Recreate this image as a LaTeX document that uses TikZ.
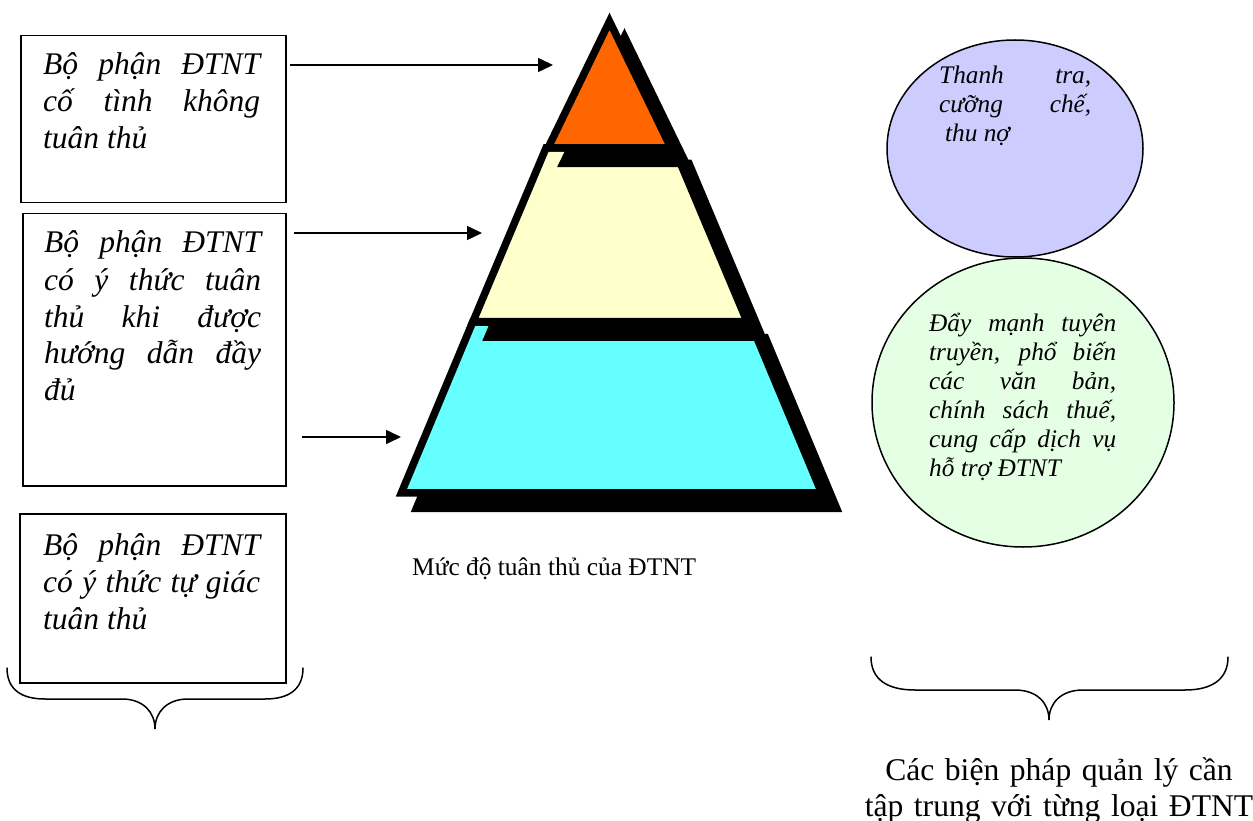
\documentclass[tikz,border=0pt]{standalone}
\usepackage{fontspec}
\setmainfont{Liberation Serif}
\usetikzlibrary{arrows.meta,shapes.geometric}
\definecolor{pyrorange}{HTML}{FF6600}
\definecolor{pyrcream}{HTML}{FFFFCC}
\definecolor{pyrcyan}{HTML}{66FFFF}
\definecolor{circpurple}{HTML}{CCCCFF}
\definecolor{circgreen}{HTML}{E5FFE5}
\hbadness=10000
\begin{document}
\begin{tikzpicture}[x=1pt,y=-1pt,
  boxframe/.style={draw=black, line width=1.5pt, anchor=north west, inner sep=0pt},
  boxtext/.style={anchor=base west, inner sep=0pt, text width=217pt, align=justify,
    font=\fontsize{31.5}{37}\selectfont\itshape},
  circtext/.style={anchor=base west, inner sep=0pt, align=justify,
    font=\fontsize{25.3}{29}\selectfont\itshape},
  circ/.style={ellipse, draw=black, line width=1.5pt, inner sep=0pt},
  pointer/.style={line width=1.5pt, -{Triangle[length=15pt,width=14pt]}},
  layer/.style={line width=7.5pt, line join=miter, draw=black},
  shade/.style={layer, fill=black},
  bracestyle/.style={line width=1.5pt, line cap=round}]
\useasboundingbox (0,0) rectangle (1253,821);
\fill[white] (0,0) rectangle (1253,821);

% --- left boxes ---
\node (b1) [boxframe, minimum width=265pt, minimum height=167pt] at (20,35) {};
\node (b2) [boxframe, minimum width=263pt, minimum height=272pt] at (22,213) {};
\node (b3) [boxframe, minimum width=266pt, minimum height=169pt] at (19,513) {};

\node (t1) [boxtext] at (43,75) {Bộ phận ĐTNT\linebreak cố tình không\linebreak tuân thủ};
\node (t2) [boxtext] at (44,253) {Bộ phận ĐTNT\linebreak có ý thức tuân\linebreak thủ khi được\linebreak hướng dẫn đầy\linebreak đủ};
\node (t3) [boxtext] at (43,555) {Bộ phận ĐTNT\linebreak có ý thức tự giác\linebreak tuân thủ};

% --- pyramid ---
\begin{scope}[shift={(15,15.5)}]
  \draw[shade] (472.7,322) -- (750.3,322) -- (821.6,492.75) -- (401.4,492.75) -- cycle;
\end{scope}
\draw[layer, fill=pyrcyan] (472.7,322) -- (750.3,322) -- (821.6,492.75) -- (401.4,492.75) -- cycle;
\begin{scope}[shift={(15,15.5)}]
  \draw[shade] (546,148) -- (674,148) -- (747,321.5) -- (473,321.5) -- cycle;
\end{scope}
\draw[layer, fill=pyrcream] (546,148) -- (674,148) -- (747,321.5) -- (473,321.5) -- cycle;
\begin{scope}[shift={(15,15.5)}]
  \draw[shade] (609.5,21.3) -- (671,148) -- (548,148) -- cycle;
\end{scope}
\draw[layer, fill=pyrorange] (609.5,21.3) -- (671,148) -- (548,148) -- cycle;

% --- arrows ---
\coordinate (a1s) at (290,65);
\coordinate (a1e) at (553,65);
\coordinate (a2s) at (294,233);
\coordinate (a2e) at (482,233);
\coordinate (a3s) at (302,437);
\coordinate (a3e) at (401,437);
\draw[pointer] (a1s) -- (a1e);
\draw[pointer] (a2s) -- (a2e);
\draw[pointer] (a3s) -- (a3e);

\node (plabel) [anchor=base west, inner sep=0pt, font=\fontsize{25.4}{29}\selectfont] at (412,575) {Mức độ tuân thủ của ĐTNT};

% --- circles ---
\node (c1) [circ, fill=circpurple, minimum width=256pt, minimum height=217pt] at (1015,148.5) {};
\node (c2) [circ, fill=circgreen, minimum width=302pt, minimum height=289pt] at (1023,402.5) {};
\node (ct1) [circtext, text width=152pt] at (939,84) {Thanh tra,\linebreak cưỡng chế,\linebreak\hspace*{6pt}thu nợ};
\node (ct2) [circtext, text width=187pt] at (929,331) {Đẩy mạnh tuyên\linebreak truyền, phổ biến\linebreak các văn bản,\linebreak chính sách thuế,\linebreak cung cấp dịch vụ\linebreak hỗ trợ ĐTNT};

% --- braces ---
\draw[bracestyle] (7,668) .. controls (7,690) and (22,699) .. (45,699) -- (122,699)
  .. controls (143,699) and (155,712) .. (155,729)
  .. controls (155,712) and (167,699) .. (188,699) -- (265,699)
  .. controls (288,699) and (303,690) .. (303,668);
\draw[bracestyle] (871,657) .. controls (871,680) and (888,690) .. (915,690) -- (1015,690)
  .. controls (1037,690) and (1049,703) .. (1049,720)
  .. controls (1049,703) and (1061,690) .. (1083,690) -- (1185,690)
  .. controls (1211,690) and (1228,680) .. (1228,657);

\node (mlabel) [anchor=base, inner sep=0pt, text width=420pt, align=center,
  font=\fontsize{31.6}{36.5}\selectfont] at (1059,780) {Các biện pháp quản lý cần\\ tập trung với từng loại ĐTNT};
\end{tikzpicture}
\end{document}
